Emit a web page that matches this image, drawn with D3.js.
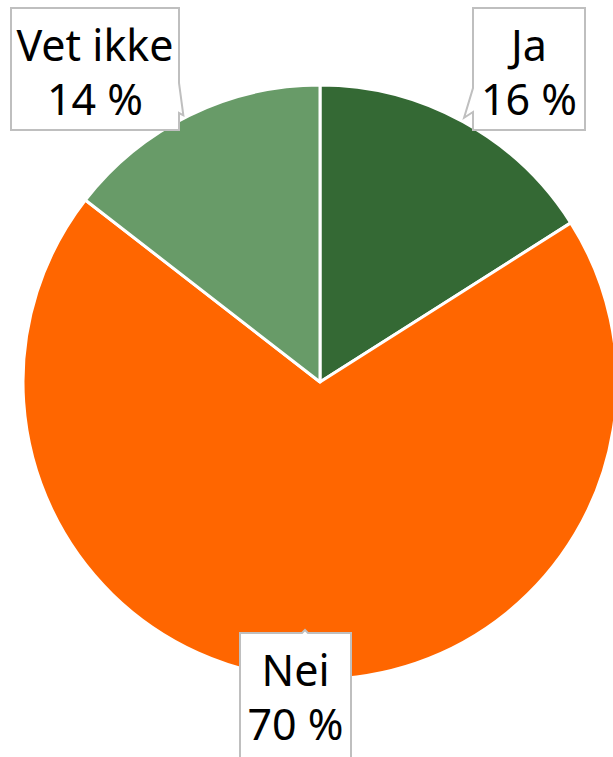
<!DOCTYPE html>
<html>
<head>
<meta charset="utf-8">
<script src="https://cdn.jsdelivr.net/npm/d3@7"></script>
<style>
  html, body { margin: 0; padding: 0; background: #fff; }
  svg { display: block; }
  text { font-family: "Noto Sans", "Open Sans", sans-serif; }
</style>
</head>
<body>
<svg id="chart" width="613" height="757"></svg>
<script>
var categories = ["Ja", "Nei", "Vet ikke"];
var values = [16, 69.5, 14.5];
var valueLabels = ["16 %", "70 %", "14 %"];
var sliceColors = ["#346934", "#ff6600", "#689b68"];

// Layout of the pie and the callout boxes.
var my = {
  width: 613,
  height: 757,
  cx: 320,
  cy: 382,
  radius: 297,
  fontSize: 43,
  lineGap: 54,
  // box = [left, top, width, height]; pointer side and base of the notch
  boxes: [
    {box: [473, 8, 112, 122], side: "left", base: [88, 112]},
    {box: [240, 633, 111, 140], side: "top", base: [302, 308]},
    {box: [11, 8, 168, 122], side: "right", base: [83, 113]}
  ]
};

var svg = d3.select("#chart");

var pie = d3.pie().sort(null).value(function(d){ return d; });
var arcs = pie(values);
var arc = d3.arc().innerRadius(0).outerRadius(my.radius);
var tipArc = d3.arc().innerRadius(my.radius).outerRadius(my.radius);

var g = svg.append("g").attr("transform", "translate(" + my.cx + "," + my.cy + ")");
g.selectAll("path.slice")
  .data(arcs)
  .enter().append("path")
    .attr("class", "slice")
    .attr("d", arc)
    .attr("fill", function(d, i){ return sliceColors[i]; })
    .attr("stroke", "#fff")
    .attr("stroke-width", 3)
    .attr("stroke-linejoin", "round");

// Callout boxes; the pointer tip sits on the slice edge at its mid-angle.
arcs.forEach(function(a, i){
  var b = my.boxes[i];
  var x0 = b.box[0], y0 = b.box[1], x1 = x0 + b.box[2], y1 = y0 + b.box[3];
  var c = tipArc.centroid(a);
  var tx = my.cx + c[0], ty = my.cy + c[1];
  var p = d3.path();
  p.moveTo(x0, y0);
  if (b.side === "top") {
    p.lineTo(b.base[0], y0);
    p.lineTo((b.base[0] + b.base[1]) / 2, y0 - 3);
    p.lineTo(b.base[1], y0);
  }
  p.lineTo(x1, y0);
  if (b.side === "right") {
    p.lineTo(x1, b.base[0]);
    p.lineTo(tx - 6, ty);
    p.lineTo(x1, b.base[1]);
  }
  p.lineTo(x1, y1);
  p.lineTo(x0, y1);
  if (b.side === "left") {
    p.lineTo(x0, b.base[1]);
    p.lineTo(tx + 1, ty - 4);
    p.lineTo(x0, b.base[0]);
  }
  p.closePath();
  svg.append("path")
    .attr("d", p.toString())
    .attr("fill", "#fff")
    .attr("stroke", "#bfbfbf")
    .attr("stroke-width", 2)
    .attr("stroke-linejoin", "miter");

  var mx = (x0 + x1) / 2;
  svg.append("text")
    .attr("x", mx).attr("y", y0 + 53)
    .attr("text-anchor", "middle")
    .attr("font-size", my.fontSize)
    .attr("fill", "#000")
    .text(categories[i]);
  svg.append("text")
    .attr("x", mx).attr("y", y0 + 53 + my.lineGap)
    .attr("text-anchor", "middle")
    .attr("font-size", my.fontSize)
    .attr("fill", "#000")
    .text(valueLabels[i]);
});
</script>
</body>
</html>
